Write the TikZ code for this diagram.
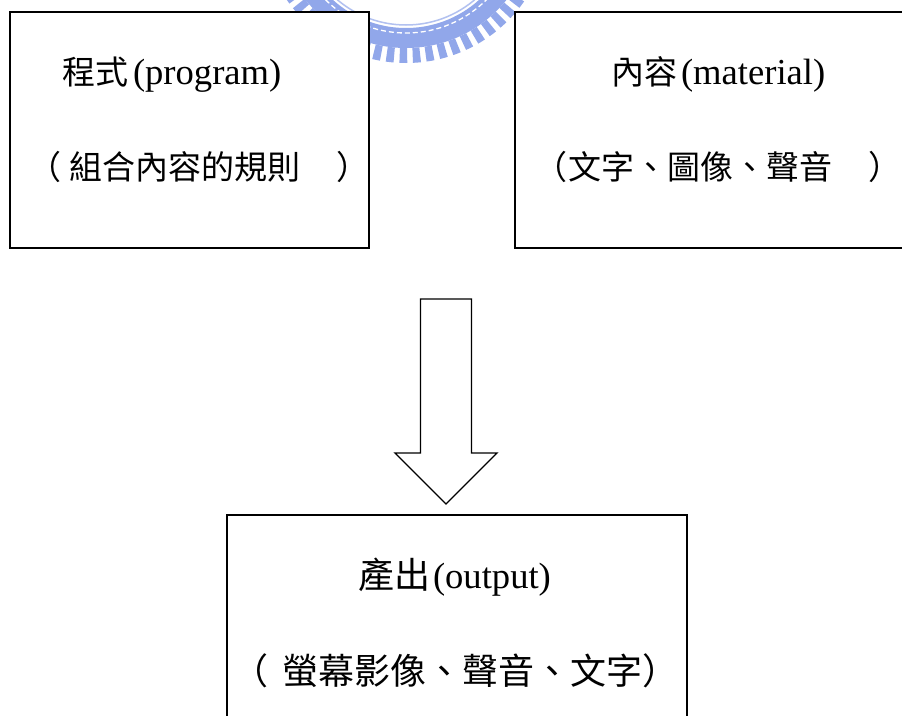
\documentclass[tikz,border=0pt]{standalone}
\usepackage{fontspec}
\setmainfont{Liberation Serif}
\newfontfamily\cjk{Noto Sans CJK TC}
\newcommand{\ctop}[1]{{\cjk\fontsize{33}{40}\selectfont #1}}
\newcommand{\cbot}[1]{{\cjk\fontsize{36}{40}\selectfont #1}}
\usetikzlibrary{calc}
\definecolor{wmblue}{RGB}{145,167,234}
\tikzset{
  box/.style={draw=black, line width=1.9pt, fill=white, rectangle, inner sep=0pt},
  label/.style={inner sep=0pt, outer sep=0pt, anchor=base west, font=\fontsize{36.6}{40}\selectfont},
  blockarrow/.style={draw=black, line width=1.3pt, fill=white, line join=miter}
}
\begin{document}
\begin{tikzpicture}[x=1pt,y=-1pt]
\clip (0,0) rectangle (902,715);
\fill[white] (0,0) rectangle (902,715);
% watermark (partial logo)
\coordinate (wm) at (406,-81);
\draw[wmblue!70, line width=1.5pt] (wm) circle[radius=106pt];
\draw[wmblue, line width=20pt] (wm) circle[radius=119pt];
\draw[white, line width=1.3pt, dash pattern=on 5pt off 3pt] (wm) circle[radius=114pt];
\draw[wmblue, line width=15pt, dash pattern=on 7.5pt off 5.5pt] (wm) circle[radius=136.5pt];
% boxes
\node[box, minimum width=359pt, minimum height=236pt] (prog) at (189.5,130) {};
\node[box, minimum width=420pt, minimum height=236pt] (mat) at (725,130) {};
\node[box, minimum width=460pt, minimum height=260pt] (out) at (457,645) {};
% texts
\node[label] (prog1) at (62,84) {\ctop{程式}\kern5pt(program)};
\node[label] (prog2) at (28,179) {\ctop{（\kern9pt組合內容的規則\kern36pt）}};
\node[label] (mat1) at (611,84) {\ctop{內容}\kern4pt(material)};
\node[label] (mat2) at (534,179) {\ctop{（\kern2pt文字、圖像、聲音\kern36pt）}\kern-16pt};
\node[label] (out1) at (358,588) {\cbot{產出}\kern3pt(output)};
\node[label] (out2) at (232,684) {\cbot{（\kern15pt螢幕影像、聲音、文字）}};
% block arrow
\coordinate (atop) at (446,299);
\coordinate (atip) at (446,504);
\draw[blockarrow] ($(atop)+(-25.5,0)$) -- ($(atop)+(25.5,0)$) -- ($(atop)+(25.5,154)$)
  -- ($(atop)+(51,154)$) -- (atip) -- ($(atop)+(-51,154)$) -- ($(atop)+(-25.5,154)$) -- cycle;
\end{tikzpicture}
\end{document}
